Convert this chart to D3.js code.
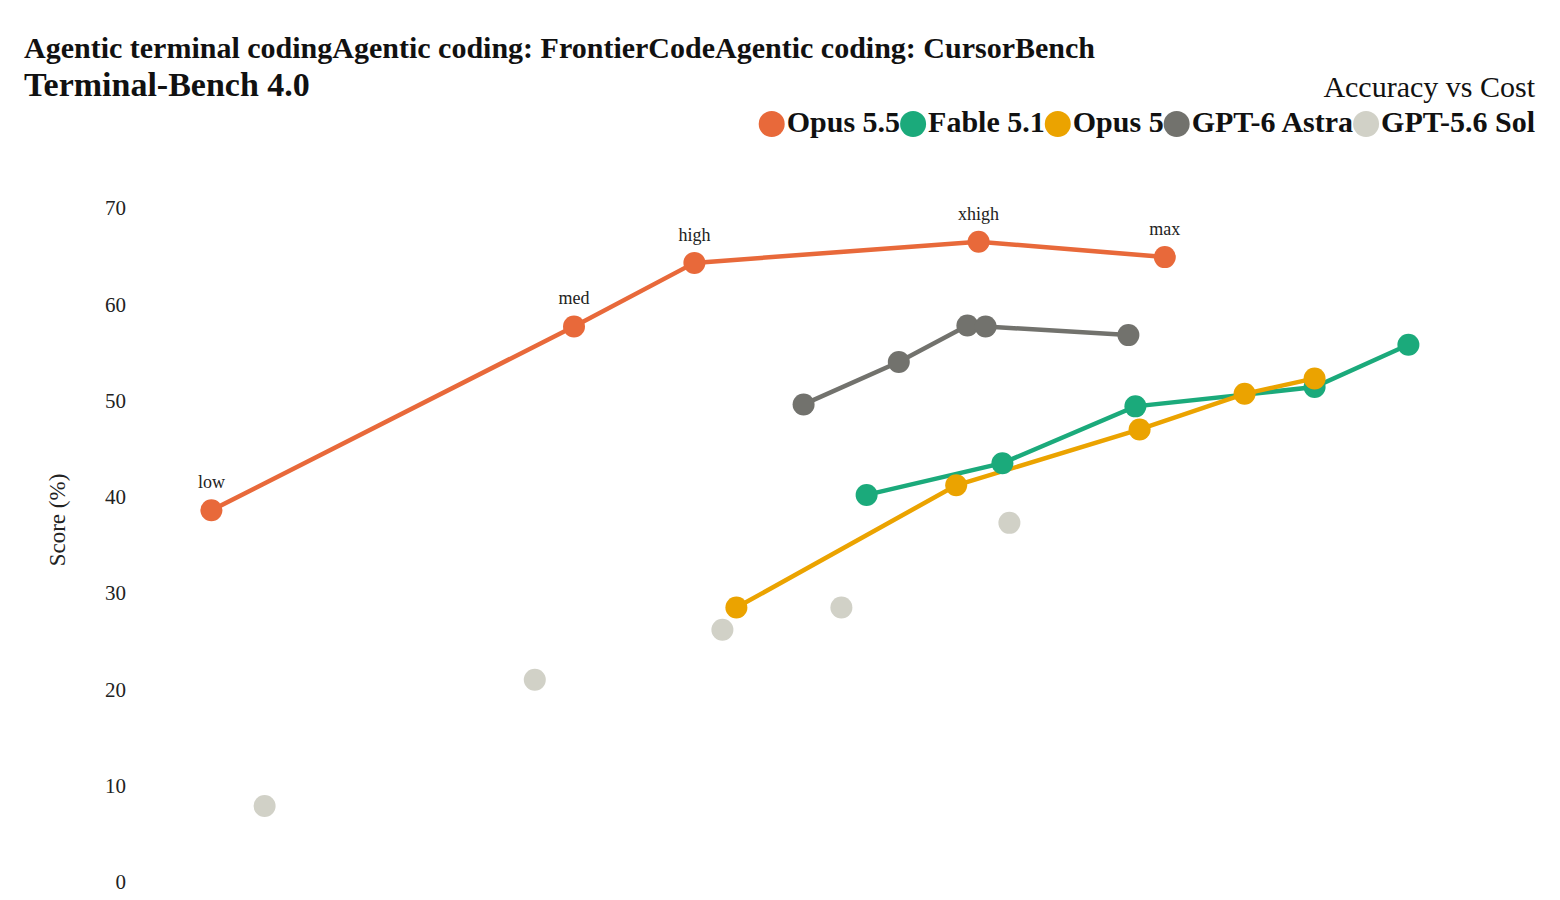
<!DOCTYPE html>
<html><head><meta charset="utf-8">
<script src="https://cdn.jsdelivr.net/npm/d3@7"></script>
<style>body{margin:0;background:#fff;} svg{display:block;font-family:"Liberation Serif","Times New Roman",serif;}</style>
</head><body>
<svg id="chart" width="1560" height="900"></svg>
<script>
// ---- data ----
const titleLine1 = "Agentic terminal codingAgentic coding: FrontierCodeAgentic coding: CursorBench";
const titleLine2 = "Terminal-Bench 4.0";
const subtitle = "Accuracy vs Cost";
const yLabel = "Score (%)";
const seriesNames = ["Opus 5.5", "Fable 5.1", "Opus 5", "GPT-6 Astra", "GPT-5.6 Sol"];
const seriesColors = ["#E8693A", "#1BAA7B", "#EBA300", "#72726D", "#D1D1C7"];
const seriesLines = [true, true, true, true, false];
const yTicks = [0, 10, 20, 30, 40, 50, 60, 70];
const effortLabels = ["low", "med", "high", "xhigh", "max"];
// relative cost (x) and score (y)
const opus55Cost = [5.1, 31.0, 39.6, 59.9, 73.2];
const opus55Score = [38.6, 57.7, 64.3, 66.5, 64.9];
const fableCost = [51.9, 61.6, 71.1, 83.9, 90.6];
const fableScore = [40.2, 43.5, 49.4, 51.4, 55.8];
const opus5Cost = [42.6, 58.3, 71.4, 78.9, 83.9];
const opus5Score = [28.5, 41.2, 47.0, 50.7, 52.3];
const astraCost = [47.4, 54.2, 59.1, 60.4, 70.6];
const astraScore = [49.6, 54.0, 57.8, 57.7, 56.8];
const solCost = [8.9, 28.2, 41.6, 50.1, 62.1];
const solScore = [7.9, 21.0, 26.2, 28.5, 37.3];

const costs = [opus55Cost, fableCost, opus5Cost, astraCost, solCost];
const scores = [opus55Score, fableScore, opus5Score, astraScore, solScore];
const series = seriesNames.map((name, i) => ({
  name, color: seriesColors[i], line: seriesLines[i],
  pts: costs[i].map((c, j) => ({x: c, y: scores[i][j]}))
}));

// ---- drawing ----
const svg = d3.select("#chart");
const x = d3.scaleLinear().domain([0, 100]).range([140, 1540]);
const y = d3.scaleLinear().domain([0, 70]).range([882, 208]);

svg.append("text").attr("x", 24).attr("y", 58).attr("font-size", 30).attr("font-weight", "bold").attr("fill", "#111").text(titleLine1);
svg.append("text").attr("x", 24).attr("y", 96).attr("font-size", 34).attr("font-weight", "bold").attr("fill", "#111").text(titleLine2);
svg.append("text").attr("x", 1535).attr("y", 97).attr("font-size", 30).attr("text-anchor", "end").attr("fill", "#111").text(subtitle);

// legend, right aligned
const legend = svg.append("g");
const legFont = 30;
let items = [];
seriesNames.forEach((n, i) => {
  const t = legend.append("text").attr("y", 132).attr("font-size", legFont).attr("font-weight", "bold").attr("fill", "#111").text(n);
  items.push({t, w: t.node().getComputedTextLength(), c: seriesColors[i]});
});
let cursor = 1535;
for (let i = items.length - 1; i >= 0; i--) {
  const it = items[i];
  const tx = cursor - it.w;
  it.t.attr("x", tx);
  legend.insert("circle", "text").attr("cx", tx - 15).attr("cy", 124).attr("r", 13).attr("fill", it.c);
  cursor = tx - 28;
}

// y axis
const yAxis = d3.axisLeft(y).tickValues(yTicks).tickSize(0).tickPadding(0);
const ag = svg.append("g").attr("transform", "translate(126,0)").call(yAxis);
ag.select(".domain").remove();
ag.selectAll("text").attr("font-size", 21).attr("font-family", "Liberation Serif, serif").attr("fill", "#222").attr("dy", "0.32em");

svg.append("text").attr("transform", "translate(65,520) rotate(-90)").attr("text-anchor", "middle").attr("font-size", 23).attr("fill", "#222").text(yLabel);

// lines
const line = d3.line().x(d => x(d.x)).y(d => y(d.y));
svg.append("g").selectAll("path").data(series.filter(s => s.line)).join("path")
  .attr("d", s => line(s.pts)).attr("fill", "none").attr("stroke", s => s.color).attr("stroke-width", 4.5);

// points
series.forEach(s => {
  svg.append("g").selectAll("circle").data(s.pts).join("circle")
    .attr("cx", d => x(d.x)).attr("cy", d => y(d.y)).attr("r", 11).attr("fill", s.color);
});

// effort labels on first series
svg.append("g").selectAll("text").data(series[0].pts).join("text")
  .attr("x", d => x(d.x)).attr("y", d => y(d.y) - 22).attr("text-anchor", "middle")
  .attr("font-size", 18).attr("fill", "#222").text((d, i) => effortLabels[i]);
</script>
</body></html>
